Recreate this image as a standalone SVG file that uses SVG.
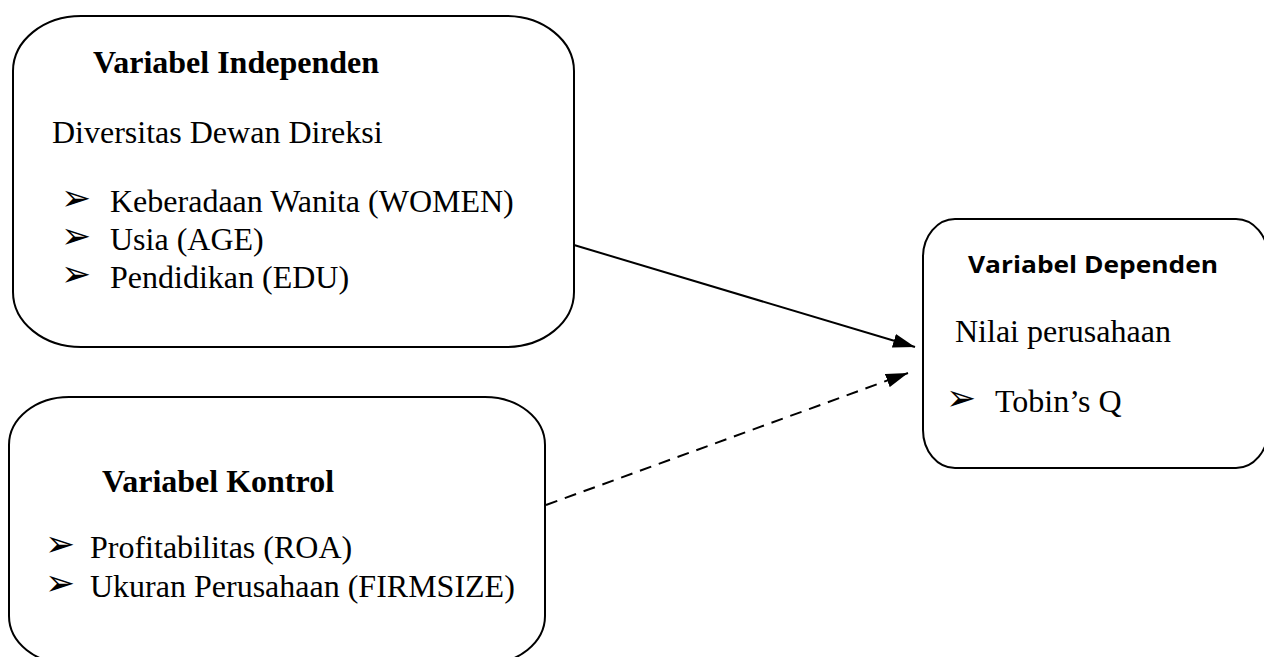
<svg xmlns="http://www.w3.org/2000/svg" width="1264" height="657" viewBox="0 0 1264 657">
  <style>
    .box { fill: #ffffff; stroke: #000000; stroke-width: 2; }
    .title { font-family: "Liberation Serif", "Times New Roman", serif; font-weight: bold; font-size: 32px; fill: #000; }
    .txt { font-family: "Liberation Serif", "Times New Roman", serif; font-size: 32px; fill: #000; }
    .sans { font-family: "Open Sans", "Noto Sans", sans-serif; font-weight: bold; font-size: 24px; fill: #000; }
    .bul { font-family: "DejaVu Sans", sans-serif; font-size: 36px; fill: #000; }
    .conn { stroke: #000; stroke-width: 2; fill: none; }
  </style>
  <defs>
    <marker id="arrow" markerUnits="userSpaceOnUse" markerWidth="22" markerHeight="14" refX="22" refY="7" orient="auto">
      <path d="M0,0 L22,7 L0,14 z" fill="#000"/>
    </marker>
  </defs>
  <rect width="1264" height="657" fill="#ffffff"/>

  <g id="independen">
    <rect class="box" x="13" y="16" width="561" height="331" rx="68" ry="55"/>
    <text class="title" x="93" y="73">Variabel Independen</text>
    <text class="txt" x="52" y="143">Diversitas Dewan Direksi</text>
    <text class="bul" x="61" y="210">➢</text>
    <text class="txt" x="110" y="212">Keberadaan Wanita (WOMEN)</text>
    <text class="bul" x="61" y="248">➢</text>
    <text class="txt" x="110" y="250">Usia (AGE)</text>
    <text class="bul" x="61" y="286">➢</text>
    <text class="txt" x="110" y="288">Pendidikan (EDU)</text>
  </g>

  <g id="kontrol">
    <rect class="box" x="9" y="397" width="536" height="267" rx="60" ry="48"/>
    <text class="title" x="102" y="492">Variabel Kontrol</text>
    <text class="bul" x="45" y="556">➢</text>
    <text class="txt" x="90" y="558">Profitabilitas (ROA)</text>
    <text class="bul" x="45" y="595">➢</text>
    <text class="txt" x="90" y="597">Ukuran Perusahaan (FIRMSIZE)</text>
  </g>

  <g id="dependen">
    <rect class="box" x="923" y="219" width="345" height="249" rx="32" ry="38"/>
    <text class="sans" x="968" y="273" textLength="250" lengthAdjust="spacingAndGlyphs">Variabel Dependen</text>
    <text class="txt" x="955" y="342">Nilai perusahaan</text>
    <text class="bul" x="946" y="410">➢</text>
    <text class="txt" x="995" y="412">Tobin’s Q</text>
  </g>

  <g id="connectors">
    <line class="conn" x1="574" y1="245" x2="915" y2="347" marker-end="url(#arrow)"/>
    <line class="conn" x1="546" y1="505" x2="908" y2="373" stroke-dasharray="12 8" marker-end="url(#arrow)"/>
  </g>
</svg>
